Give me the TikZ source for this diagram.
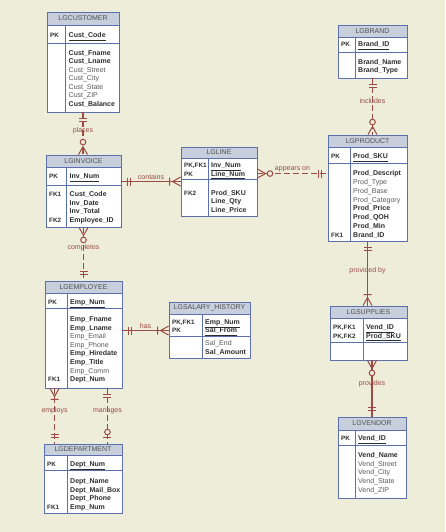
\documentclass[tikz,border=0pt]{standalone}
\usepackage{fontspec}
\setmainfont{Liberation Sans}
\usetikzlibrary{fit,calc}
\definecolor{bg}{HTML}{EEEDDA}
\definecolor{titlefill}{HTML}{C7CFDC}
\definecolor{entborder}{HTML}{5C70AE}
\definecolor{relcol}{HTML}{9B4A44}
\definecolor{boldtext}{HTML}{2E2E2E}
\definecolor{regtext}{HTML}{5A5A5A}
\definecolor{titlecol}{HTML}{505050}
\newcommand{\regt}[1]{\textcolor{regtext}{#1}}
\newcommand{\keyu}[1]{\underline{\textbf{#1}}}
\tikzset{
 entbox/.style={draw=entborder, line width=0.9pt, inner sep=0pt},
 entline/.style={draw=entborder, line width=0.7pt},
 titletext/.style={font=\fontsize{7}{8}\selectfont, text=titlecol, inner sep=0pt},
 txt/.style={anchor=base west, inner sep=0pt, font=\fontsize{7}{8}\selectfont\bfseries, text=boldtext},
 keylbl/.style={txt, font=\fontsize{6.3}{7}\selectfont\bfseries},
 rel/.style={draw=relcol, line width=1.1pt},
 reldash/.style={rel, dash pattern=on 6pt off 3pt},
 relmark/.style={draw=relcol, line width=1pt, solid},
 lbl/.style={font=\fontsize{7}{8}\selectfont, text=relcol, inner sep=1pt},
}
% entity: name, x1, y1, x2, y2, title bottom, pk bottom, divider x, title
\newcommand{\ent}[9]{%
 \fill[white] (#2,#3) rectangle (#4,#5);
 \fill[titlefill] (#2,#3) rectangle (#4,#6);
 \draw[entline] (#2,#6) -- (#4,#6) (#2,#7) -- (#4,#7) (#8,#6) -- (#8,#5);
 \node[entbox, fit={(#2,#3) (#4,#5)}] (#1) {};
 \node[titletext] (#1-title) at ($(#2,#3)!.5!(#4,#6)$) {#9};
}
\newcommand{\rows}[5]{\foreach \t [count=\i from 0] in {#5} {\node[txt] (#1-\i) at (#2,{#3+\i*#4}) {\t};}}
\newcommand{\mOne}[2]{\begin{scope}[shift={(#1)},rotate=#2]\draw[relmark] (6,-4)--(6,4) (9,-4)--(9,4);\end{scope}}
\newcommand{\mOneMany}[2]{\begin{scope}[shift={(#1)},rotate=#2]\draw[relmark] (0,-4.5)--(8,0)--(0,4.5) (11,-4)--(11,4);\end{scope}}
\newcommand{\mZeroMany}[2]{\begin{scope}[shift={(#1)},rotate=#2]\draw[relmark] (0,-4.5)--(8,0)--(0,4.5); \draw[relmark, fill=bg] (12.5,0) circle[radius=2.8pt];\end{scope}}
\newcommand{\mZeroOne}[2]{\begin{scope}[shift={(#1)},rotate=#2]\draw[relmark] (6,-4)--(6,4); \draw[relmark, fill=bg] (11.5,0) circle[radius=2.8pt];\end{scope}}
\begin{document}
\begin{tikzpicture}[x=1pt,y=-1pt]
\useasboundingbox (0,0) rectangle (445,532);
\fill[bg] (0,0) rectangle (445,532);

% LGCUSTOMER
\ent{cust}{47}{12}{119}{112}{25}{43}{65}{LGCUSTOMER}
\node[keylbl] (cust-pk) at (50,37.5) {PK};
\node[txt] (cust-k) at (68.5,37.5) {\keyu{Cust\_Code}};
\rows{cust-a}{68.5}{55.5}{8.5}{Cust\_Fname,Cust\_Lname,\regt{\mdseries Cust\_Street},\regt{\mdseries Cust\_City},\regt{\mdseries Cust\_State},\regt{\mdseries Cust\_ZIP},Cust\_Balance}

% LGINVOICE
\ent{inv}{46}{155}{121}{227}{167}{185}{66}{LGINVOICE}
\node[keylbl] (inv-pk) at (49,178.5) {PK};
\node[txt] (inv-k) at (69.5,178.5) {\keyu{Inv\_Num}};
\node[keylbl] (inv-fk1) at (49,196.5) {FK1};
\node[keylbl] (inv-fk2) at (49,222.3) {FK2};
\rows{inv-a}{69.5}{196.5}{8.6}{Cust\_Code,Inv\_Date,Inv\_Total,Employee\_ID}

% LGLINE
\ent{line}{181}{147}{257}{216}{158}{179}{208}{LGLINE}
\node[keylbl] (line-pk1) at (184,167.5) {PK,FK1};
\node[keylbl] (line-pk2) at (184,176) {PK};
\node[txt] (line-k1) at (211,167.5) {\keyu{Inv\_Num}};
\node[txt] (line-k2) at (211,176) {\keyu{Line\_Num}};
\node[keylbl] (line-fk2) at (184,195) {FK2};
\rows{line-a}{211}{195}{8.5}{Prod\_SKU,Line\_Qty,Line\_Price}

% LGPRODUCT
\ent{prod}{328}{135}{407}{241}{147}{163}{350}{LGPRODUCT}
\node[keylbl] (prod-pk) at (331,158.5) {PK};
\node[txt] (prod-k) at (353,158.5) {\keyu{Prod\_SKU}};
\node[keylbl] (prod-fk1) at (331,237.45) {FK1};
\rows{prod-a}{353}{175.5}{8.85}{Prod\_Descript,\regt{\mdseries Prod\_Type},\regt{\mdseries Prod\_Base},\regt{\mdseries Prod\_Category},Prod\_Price,Prod\_QOH,Prod\_Min,Brand\_ID}

% LGBRAND
\ent{brand}{338}{25}{407}{78}{37}{52}{355}{LGBRAND}
\node[keylbl] (brand-pk) at (341,46.5) {PK};
\node[txt] (brand-k) at (358,46.5) {\keyu{Brand\_ID}};
\rows{brand-a}{358}{64.5}{8}{Brand\_Name,Brand\_Type}

% LGEMPLOYEE
\ent{emp}{45}{281}{122}{388}{293}{308}{67}{LGEMPLOYEE}
\node[keylbl] (emp-pk) at (48,304.5) {PK};
\node[txt] (emp-k) at (70,304.5) {\keyu{Emp\_Num}};
\node[keylbl] (emp-fk1) at (48,381.7) {FK1};
\rows{emp-a}{70}{321.5}{8.6}{Emp\_Fname,Emp\_Lname,\regt{\mdseries Emp\_Email},\regt{\mdseries Emp\_Phone},Emp\_Hiredate,Emp\_Title,\regt{\mdseries Emp\_Comm},Dept\_Num}

% LGSALARY_HISTORY
\ent{sal}{169}{302}{250}{358}{314}{336}{202}{LGSALARY\_HISTORY}
\node[keylbl] (sal-pk1) at (172,324.5) {PK,FK1};
\node[keylbl] (sal-pk2) at (172,332.5) {PK};
\node[txt] (sal-k1) at (205,324.5) {\keyu{Emp\_Num}};
\node[txt] (sal-k2) at (205,332.5) {\keyu{Sal\_From}};
\rows{sal-a}{205}{345.5}{8.5}{\regt{\mdseries Sal\_End},Sal\_Amount}

% LGSUPPLIES
\ent{sup}{330}{306}{407}{360}{318}{342}{363}{LGSUPPLIES}
\node[keylbl] (sup-pk1) at (333,329.5) {PK,FK1};
\node[keylbl] (sup-pk2) at (333,338) {PK,FK2};
\node[txt] (sup-k1) at (366,329.5) {\keyu{Vend\_ID}};
\node[txt] (sup-k2) at (366,338) {\keyu{Prod\_SKU}};

% LGVENDOR
\ent{vend}{338}{417}{406}{498}{430}{445}{355}{LGVENDOR}
\node[keylbl] (vend-pk) at (341,440.5) {PK};
\node[txt] (vend-k) at (358,440.5) {\keyu{Vend\_ID}};
\rows{vend-a}{358}{457.5}{8.7}{Vend\_Name,\regt{\mdseries Vend\_Street},\regt{\mdseries Vend\_City},\regt{\mdseries Vend\_State},\regt{\mdseries Vend\_ZIP}}

% LGDEPARTMENT
\ent{dept}{44}{444}{122}{513}{455}{470}{67}{LGDEPARTMENT}
\node[keylbl] (dept-pk) at (47,466.5) {PK};
\node[txt] (dept-k) at (70,466.5) {\keyu{Dept\_Num}};
\node[keylbl] (dept-fk1) at (47,509.6) {FK1};
\rows{dept-a}{70}{483.5}{8.7}{Dept\_Name,Dept\_Mail\_Box,Dept\_Phone,Emp\_Num}

% relationships
% places
\coordinate (r1a) at (cust.south);
\coordinate (r1b) at (cust.south |- inv.north);
\draw[reldash] (r1a) -- node[lbl, pos=.43] (l-places) {places} (r1b);
\mOne{r1a}{-90} \mZeroMany{r1b}{90}

% contains
\coordinate (r2a) at ($(inv.north east)+(0,27)$);
\coordinate (r2b) at (r2a -| line.west);
\draw[rel] (r2a) -- node[lbl, above] (l-contains) {contains} (r2b);
\mOne{r2a}{0} \mOneMany{r2b}{180}

% appears on
\coordinate (r3a) at ($(line.north east)+(0,27)$);
\coordinate (r3b) at (r3a -| prod.west);
\draw[reldash] (r3a) -- node[lbl, above] (l-appears) {appears on} (r3b);
\mZeroMany{r3a}{0} \mOne{r3b}{180}

% includes
\coordinate (r4a) at (brand.south);
\coordinate (r4b) at (brand.south |- prod.north);
\draw[reldash] (r4a) -- node[lbl, pos=.4] (l-includes) {includes} (r4b);
\mOne{r4a}{-90} \mZeroMany{r4b}{90}

% provided by
\coordinate (r5a) at (prod.south);
\coordinate (r5b) at (prod.south |- sup.north);
\draw[rel] (r5a) -- node[lbl, pos=.45] (l-providedby) {provided by} (r5b);
\mOne{r5a}{-90} \mOneMany{r5b}{90}

% provides
\coordinate (r6a) at (vend.north |- sup.south);
\coordinate (r6b) at (vend.north);
\draw[rel] (r6a) -- node[lbl, pos=.42] (l-provides) {provides} (r6b);
\mZeroMany{r6a}{-90} \mOne{r6b}{90}

% completes
\coordinate (r7a) at (inv.south);
\coordinate (r7b) at (inv.south |- emp.north);
\draw[reldash] (r7a) -- node[lbl, pos=.39] (l-completes) {completes} (r7b);
\mZeroMany{r7a}{-90} \mOne{r7b}{90}

% has
\coordinate (r8a) at ($(emp.north east)+(0,50)$);
\coordinate (r8b) at (r8a -| sal.west);
\draw[rel] (r8a) -- node[lbl, above] (l-has) {has} (r8b);
\mOne{r8a}{0} \mOneMany{r8b}{180}

% employs
\coordinate (r9a) at ($(emp.south west)+(10,0)$);
\coordinate (r9b) at (r9a |- dept.north);
\draw[reldash] (r9a) -- node[lbl, pos=.41] (l-employs) {employs} (r9b);
\mOneMany{r9a}{-90} \mOne{r9b}{90}

% manages
\coordinate (r10a) at ($(emp.south east)+(-15,0)$);
\coordinate (r10b) at (r10a |- dept.north);
\draw[reldash] (r10a) -- node[lbl, pos=.41] (l-manages) {manages} (r10b);
\mOne{r10a}{-90} \mZeroOne{r10b}{90}
\end{tikzpicture}
\end{document}
